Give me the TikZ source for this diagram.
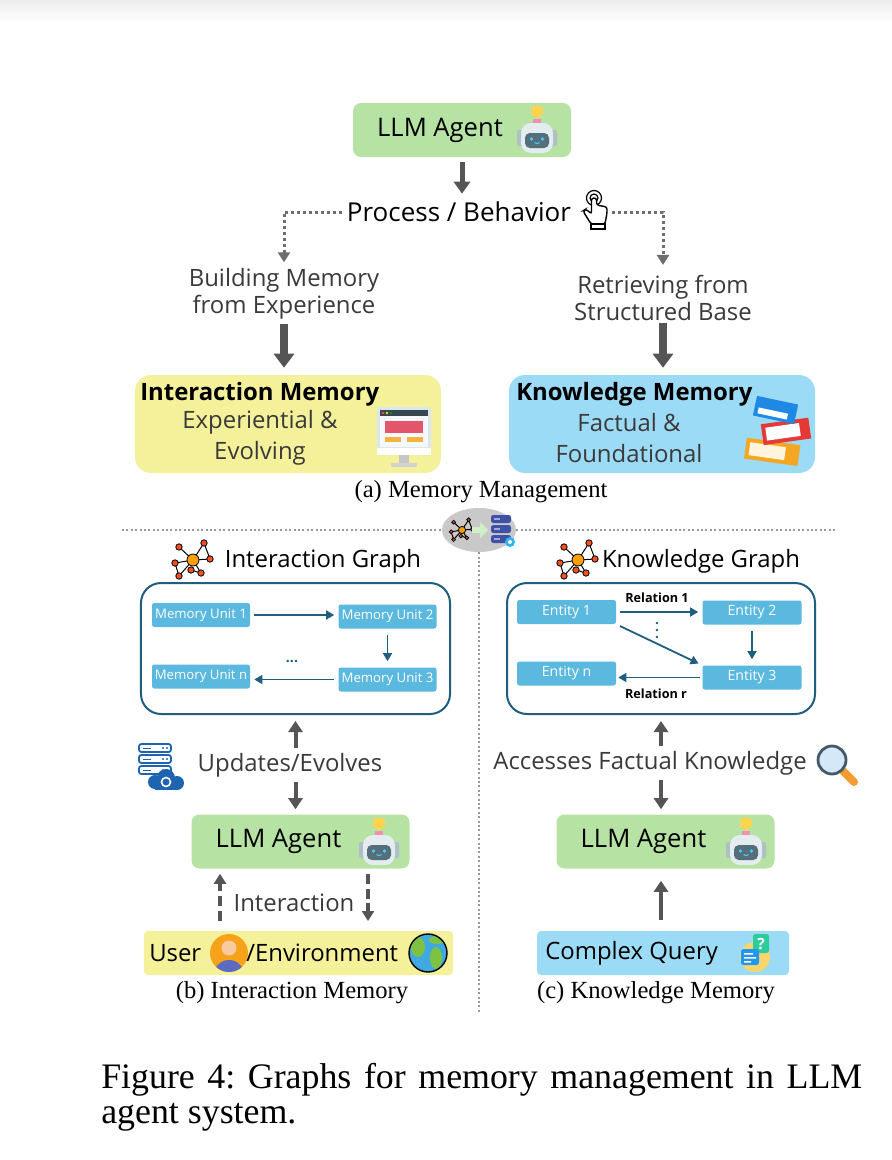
\documentclass[tikz,border=0pt]{standalone}
\usepackage{fontspec}
\setmainfont{Liberation Serif}
\newfontfamily\comic{Open Sans}
\usetikzlibrary{arrows.meta,shapes.geometric,positioning}

\definecolor{agentgreen}{HTML}{B6E3A3}
\definecolor{memyellow}{HTML}{F4F19A}
\definecolor{memblue}{HTML}{9CDBF5}
\definecolor{unitblue}{HTML}{5BB8DE}
\definecolor{graphline}{HTML}{1F5E7F}
\definecolor{arrowgray}{HTML}{555555}
\definecolor{textgray}{HTML}{3A3A3A}
\definecolor{hubgray}{HTML}{C9C9C9}
\definecolor{arrowgreen}{HTML}{CFF0C6}
\definecolor{botyellow}{HTML}{FFD54F}
\definecolor{botpink}{HTML}{F48FB1}
\definecolor{botside}{HTML}{B0BEC5}
\definecolor{botwhite}{HTML}{E3ECEF}
\definecolor{botscreen}{HTML}{546E7A}
\definecolor{boteye}{HTML}{4FC3F7}
\definecolor{monframe}{HTML}{DCE6F1}
\definecolor{monbar}{HTML}{37474F}
\definecolor{monscreen}{HTML}{F4F7FB}
\definecolor{monred}{HTML}{E2556A}
\definecolor{monyel}{HTML}{F3B43F}
\definecolor{bookorg}{HTML}{F5A623}
\definecolor{bookcream}{HTML}{FFF4DC}
\definecolor{bookred}{HTML}{E53935}
\definecolor{bookblue}{HTML}{1E88E5}
\definecolor{netorange}{HTML}{FFA000}
\definecolor{netred}{HTML}{F4511E}
\definecolor{dbblue}{HTML}{3F51A5}
\definecolor{dblight}{HTML}{9FA8DA}
\definecolor{dbgear}{HTML}{29B6F6}
\definecolor{svblue}{HTML}{1F64B0}
\definecolor{lensglass}{HTML}{D4E8F8}
\definecolor{lensrim}{HTML}{455A64}
\definecolor{lenshandle}{HTML}{F39C34}
\definecolor{personorg}{HTML}{F7A21B}
\definecolor{personblue}{HTML}{5C6BC0}
\definecolor{peach}{HTML}{F9C9A0}
\definecolor{globeblue}{HTML}{3FA9E0}
\definecolor{globegreen}{HTML}{7DC242}
\definecolor{qyellow}{HTML}{F8D66D}
\definecolor{qgreen}{HTML}{2ECC9A}
\definecolor{qblue}{HTML}{2196F3}

\newcommand{\bigtxt}{\comic\fontsize{17}{19.2}\selectfont}
\newcommand{\agenttxt}{\comic\fontsize{18.2}{20}\selectfont}
\newcommand{\proctxt}{\comic\fontsize{18.5}{20}\selectfont}
\newcommand{\unittxt}{\comic\fontsize{9.4}{11}\selectfont}
\newcommand{\enttxt}{\comic\fontsize{10}{12}\selectfont}
\newcommand{\reltxt}{\comic\bfseries\fontsize{9}{11}\selectfont}
\newcommand{\captxt}{\fontsize{17.5}{20}\selectfont}
\newcommand{\figtxt}{\fontsize{25.5}{24.9}\selectfont}

\tikzset{
	agentbox/.style={fill=agentgreen, rounded corners=2mm, minimum width=54.5mm, minimum height=13.5mm, inner sep=0, font=\agenttxt},
	membox/.style={rounded corners=4mm, minimum width=76.5mm, minimum height=24.5mm, inner sep=0},
	envbox/.style={rounded corners=1mm, minimum width=77.25mm, minimum height=11mm, inner sep=0},
	gbox/.style={draw=graphline, line width=0.5mm, rounded corners=5mm, minimum width=77.25mm, minimum height=32.75mm, inner sep=0},
	unit/.style={fill=unitblue, text=white, rounded corners=0.6mm, minimum width=24.5mm, minimum height=6mm, inner sep=0, font=\unittxt},
	ent/.style={unit, minimum width=24.75mm, font=\enttxt},
	lbl/.style={inner sep=0, font=\bigtxt, text=textgray, align=center},
	toparrow/.style={draw=arrowgray, line width=1.25mm, -{Triangle[length=3mm,width=4mm]}},
	thickarrow/.style={draw=arrowgray, line width=2mm, -{Triangle[length=3.5mm,width=5mm]}},
	midarrow/.style={draw=arrowgray, line width=1mm, -{Triangle[length=2.75mm,width=3.5mm]}},
	dotarrow/.style={draw=arrowgray!85, line width=0.75mm, dash pattern=on 0.75mm off 0.75mm, -{Triangle[length=2.5mm,width=3mm]}},
	dasharrow/.style={draw=arrowgray, line width=0.8mm, dash pattern=on 2.5mm off 1.2mm, -{Triangle[length=2.5mm,width=3mm]}},
	sepline/.style={draw=gray!80, line width=0.5mm, dash pattern=on 0.5mm off 0.6mm},
	flow/.style={draw=graphline, line width=0.45mm, -{Triangle[length=2mm,width=2.2mm]}},
	robot/.pic={
		\fill[botyellow, rounded corners=0.8mm] (-6,-25) rectangle (6,-15);
		\fill[botyellow] (-3,-15.5) -- (3,-15.5) -- (0,-12) -- cycle;
		\fill[botpink] (-4,-12) rectangle (4,-7);
		\fill[botside, rounded corners=0.5mm] (-20,-1) rectangle (-14,15);
		\fill[botside, rounded corners=0.5mm] (14,-1) rectangle (20,15);
		\fill[botwhite, rounded corners=2.5mm] (-16,-8) rectangle (16,22);
		\fill[botscreen, rounded corners=1.2mm] (-12,2) rectangle (12,17);
		\fill[boteye] (-5.5,8) circle (1.8) (5.5,8) circle (1.8);
		\draw[boteye, line width=0.3mm] (-2.5,11.5) .. controls (-1,13) and (1,13) .. (2.5,11.5);
	},
	pointer/.pic={
		\draw[line width=0.3mm] (-2,-12) circle (4);
		\draw[line width=0.3mm] (-2,-12) circle (7.5);
		\draw[line width=0.35mm, fill=white, rounded corners=0.6mm] (-4.5,-12) -- (-4.5,4) -- (-10,-1) -- (-13,1) -- (-5,14) -- (9,14) -- (11,3) -- (11,-3) -- (0.5,-5) -- (0.5,-12) -- cycle;
		\draw[line width=0.35mm, fill=white] (-5,14) rectangle (9,19);
	},
	monitor/.pic={
		\fill[monframe, rounded corners=0.8mm] (-27,-30) rectangle (27,18);
		\fill[monbar] (-24,-27) rectangle (24,-21);
		\fill[red!70] (-21,-24) circle (1.3);
		\fill[yellow!80!orange] (-17,-24) circle (1.3);
		\fill[green!60!black] (-13,-24) circle (1.3);
		\fill[monscreen] (-24,-21) rectangle (24,10);
		\fill[monred] (-19,-16) rectangle (19,-4);
		\fill[monyel] (-19,0) rectangle (-3,5);
		\fill[monyel] (3,0) rectangle (19,5);
		\fill[white] (-27,11) rectangle (27,18);
		\fill[gray!45] (-5,18) rectangle (5,26);
		\fill[gray!35] (-13,26) rectangle (13,30);
	},
	books/.pic={
		\fill[bookorg, rotate=-8] (-30,10) rectangle (24,31);
		\fill[bookcream, rotate=-8] (-26,14) rectangle (10,27);
		\fill[bookred, rotate=8] (-16,-10) rectangle (32,11);
		\fill[white, rotate=8] (-12,-6) rectangle (22,7);
		\fill[bookblue, rotate=-12] (-28,-31) rectangle (14,-11);
		\fill[white, rotate=-12] (-24,-20) rectangle (6,-14);
	},
	network/.pic={
		\foreach \x/\y in {-14/-13, 11/-17, -18/3, -14/16, 8/13, 17/-1} {\draw[line width=0.25mm] (0,0) -- (\x,\y);}
		\draw[line width=0.25mm] (11,-17) -- (17,-1) (-18,3) -- (-14,16) (8,13) -- (-2,10);
		\fill[netorange, draw=black, line width=0.2mm] (0,0) circle (6);
		\foreach \x/\y in {-14/-13, 11/-17, -18/3, -14/16, 8/13, 17/-1, -2/10} {\fill[netred, draw=black, line width=0.2mm] (\x,\y) circle (3.2);}
	},
	hubicon/.pic={
		\pic[scale=0.6] at (-17,0) {network};
		\draw[draw=arrowgreen, line width=1.5mm, -{Triangle[length=2mm,width=4mm]}] (-7,0) -- (9,0);
		\foreach \i in {0,1,2} {\fill[dbblue, rounded corners=0.6mm] (12,-15+10*\i) rectangle (32,-7+10*\i); \fill[dblight] (15,-12+10*\i) rectangle (21,-10.5+10*\i);}
		\fill[dbgear] (31,12) circle (5);
		\fill[white] (31,12) circle (2);
	},
	servers/.pic={
		\foreach \i in {0,1,2} {\draw[svblue, fill=white, line width=0.45mm, rounded corners=0.6mm] (-24,-22+11*\i) rectangle (8,-14+11*\i); \fill[svblue] (-20,-18.5+11*\i) rectangle (-12,-17.5+11*\i); \fill[svblue] (0,-18+11*\i) circle (1.2) (4,-18+11*\i) circle (1.2);}
		\fill[svblue] (-8,16) circle (7) (3,12) circle (9) (14,17) circle (7);
		\fill[svblue] (-8,16) rectangle (14,24);
		\draw[white, line width=0.4mm] (3,16) circle (4.5);
	},
	lens/.pic={
		\draw[lenshandle, line width=2mm, line cap=round] (6,6) -- (17,17);
		\fill[lensglass] (-5,-5) circle (14);
		\draw[lensrim, line width=0.7mm] (-5,-5) circle (14);
	},
	person/.pic={
		\fill[personorg] (0,0) circle (19);
		\begin{scope}
			\clip (0,0) circle (19);
			\fill[personblue] (0,22) circle (15);
		\end{scope}
		\fill[peach] (0,-5) circle (7.5);
	},
	globe/.pic={
		\fill[globeblue] (0,0) circle (19);
		\begin{scope}
			\clip (0,0) circle (19);
			\fill[globegreen] (-10,-6) ellipse (7 and 10);
			\fill[globegreen] (8,5) ellipse (6 and 11);
			\fill[globegreen] (9,-13) ellipse (8 and 4);
		\end{scope}
		\draw[line width=0.35mm] (0,0) circle (19);
	},
	query/.pic={
		\fill[qyellow] (0,4) circle (15);
		\fill[qgreen, rounded corners=0.6mm] (-2,-19) rectangle (14,0);
		\node[white, font=\comic\bfseries\fontsize{11}{11}\selectfont] at (6,-9.5) {?};
		\fill[qblue, rounded corners=0.6mm] (-14,-4) rectangle (4,12);
		\fill[white] (-11,0) rectangle (-2,1.5) (-11,4) rectangle (1,5.5) (-11,8) rectangle (-4,9.5);
	}
}

\begin{document}
\begin{tikzpicture}[x=0.25mm,y=-0.25mm]
	\useasboundingbox (0,0) rectangle (892,1160);
	\fill[white] (0,0) rectangle (892,1160);
	\shade[top color=black!7, bottom color=white] (0,0) rectangle (892,24);

	\node[agentbox] (agent1) at (462,130) {LLM Agent\hspace*{11mm}};
	\pic at (537,131) {robot};
	\node[lbl, text=black, font=\proctxt] (proc) at (459,212) {Process / Behavior};
	\pic at (596,210) {pointer};
	\coordinate (pointR) at (612,212);
	\node[lbl] (build) at (284,294) {Building Memory\\from Experience};
	\node[lbl] (retr) at (663,298) {Retrieving from\\Structured Base};
	\draw[toparrow, shorten <=1.25mm, shorten >=2mm] (agent1.south) -- (agent1.south |- proc.north);
	\draw[dotarrow, shorten <=1.25mm, shorten >=1.5mm] (proc.west) -| (build.north);
	\draw[dotarrow, shorten >=2.5mm] (pointR) -| (retr.north);

	\node[membox, fill=memyellow] (imem) at (288,424) {};
	\node[membox, fill=memblue] (kmem) at (662,424) {};
	\draw[thickarrow, shorten <=1mm, shorten >=1.75mm] (build.south) -- (build.south |- imem.north);
	\draw[thickarrow, shorten <=0.5mm, shorten >=1.75mm] (retr.south) -- (retr.south |- kmem.north);
	\node[lbl, anchor=west, text=black, font=\bigtxt\bfseries] (imemT) at (140,394) {Interaction Memory};
	\node[lbl] (imemS) at (260,438) {Experiential \&\\[3pt]Evolving};
	\pic at (404,437) {monitor};
	\node[lbl, anchor=west, text=black, font=\bigtxt\bfseries] (kmemT) at (516,394) {Knowledge Memory};
	\node[lbl] (kmemS) at (629,438) {Factual \&\\[3pt]Foundational};
	\pic at (778,432) {books};
	\node[font=\captxt, inner sep=0] (capA) at (481,492) {(a) Memory Management};

	\node[ellipse, fill=hubgray, minimum width=18.5mm, minimum height=11mm, inner sep=0] (hub) at (479,530) {};
	\pic at (hub) {hubicon};
	\coordinate (sepL) at (122,530);
	\coordinate (sepR) at (835,530);
	\coordinate (sepB) at (479,1012);
	\draw[sepline] (sepL) -- (hub);
	\draw[sepline] (hub) -- (sepR);
	\draw[sepline] (hub) -- (sepB);

	\pic at (193,560) {network};
	\node[lbl, text=black] (igT) at (323,561) {Interaction Graph};
	\node[gbox] (igbox) at (295.5,648.5) {};
	\node[unit] (mu1) at (201,615) {Memory Unit 1};
	\node[unit] (mu2) at (387.5,616.5) {Memory Unit 2};
	\node[unit] (mu3) at (387.5,679.5) {Memory Unit 3};
	\node[unit] (mun) at (201,676.5) {Memory Unit n};
	\draw[flow, shorten <=1mm, shorten >=1mm] (mu1.east) -- (mu1.east -| mu2.west);
	\draw[flow, shorten <=1.5mm, shorten >=1.5mm] (mu2) -- (mu3);
	\draw[flow, shorten <=1mm, shorten >=1mm] (mu3.west) -- (mu3.west -| mun.east);
	\node[text=graphline, font=\enttxt\bfseries] (dots) at (292,662) {...};

	\node[lbl] (upd) at (290,765) {Updates/Evolves};
	\pic at (163,766) {servers};
	\node[agentbox] (agent2) at (300.5,841.5) {LLM Agent\hspace*{11mm}};
	\pic at (379,843) {robot};
	\draw[midarrow, shorten <=1.25mm, shorten >=1.5mm] (upd.north -| igbox.south) -- (igbox.south);
	\draw[midarrow, shorten <=1.25mm, shorten >=1.25mm] (upd.south -| igbox.south) -- (agent2.north -| igbox.south);
	\node[lbl] (inter) at (294,903) {Interaction};
	\coordinate (intUp) at (220,921);
	\coordinate (intDn) at (368,921);
	\draw[dasharrow, shorten >=1.25mm] (intUp) -- (intUp |- agent2.south);
	\draw[dasharrow, shorten <=1.25mm] (intDn |- agent2.south) -- (intDn);
	\node[envbox, fill=memyellow] (uenv) at (298.5,953) {};
	\node[lbl, text=black, anchor=west] (user) at (149,953) {User};
	\pic at (229,953) {person};
	\node[lbl, text=black, anchor=west] (envi) at (246,953) {/Environment};
	\pic at (428,953) {globe};
	\node[font=\captxt, inner sep=0] (capB) at (292,993) {(b) Interaction Memory};

	\pic at (578,560) {network};
	\node[lbl, text=black] (kgT) at (701,561) {Knowledge Graph};
	\node[gbox, minimum width=77mm] (kgbox) at (661,648.5) {};
	\node[ent] (e1) at (566.5,612) {Entity 1};
	\node[ent] (e2) at (752,612.5) {Entity 2};
	\node[ent] (e3) at (752,677.5) {Entity 3};
	\node[ent] (en) at (566.5,673.5) {Entity n};
	\draw[flow, shorten <=1mm, shorten >=1mm] (e1.east) -- (e1.east -| e2.west);
	\node[font=\reltxt, inner sep=0] (rel1) at (657,598) {Relation 1};
	\foreach \y in {623,630,637} {\fill[graphline] (657,\y) circle (1.4);}
	\draw[flow, shorten <=1mm, shorten >=1mm] (e1.south east) -- (e3.north west);
	\draw[flow, shorten <=1.5mm, shorten >=1.5mm] (e2) -- (e3);
	\draw[flow, shorten <=0.5mm, shorten >=0.5mm] (e3.west) -- (e3.west -| en.east);
	\node[font=\reltxt, inner sep=0] (relr) at (656,694) {Relation r};

	\node[lbl] (acc) at (650,763) {Accesses Factual Knowledge};
	\pic at (837,765) {lens};
	\node[agentbox] (agent3) at (665.5,841.5) {LLM Agent\hspace*{11mm}};
	\pic at (746,843) {robot};
	\draw[midarrow, shorten <=1.25mm, shorten >=1.5mm] (acc.north -| kgbox.south) -- (kgbox.south);
	\draw[midarrow, shorten <=1.25mm, shorten >=1.25mm] (acc.south -| kgbox.south) -- (agent3.north -| kgbox.south);
	\node[envbox, fill=memblue, minimum width=63mm] (query) at (663,953) {};
	\node[lbl, text=black, anchor=west] (qtext) at (545,953) {Complex Query};
	\pic at (755,953) {query};
	\draw[midarrow, shorten <=2.75mm, shorten >=3mm] (query.north -| kgbox.south) -- (agent3.south -| kgbox.south);
	\node[font=\captxt, inner sep=0] (capC) at (656,993) {(c) Knowledge Memory};

	\node[anchor=north west, text width=190.25mm, align=justify, inner sep=0, font=\figtxt] (fig) at (101,1063) {Figure 4:\ Graphs for memory management in LLM\linebreak agent system.};
\end{tikzpicture}
\end{document}
